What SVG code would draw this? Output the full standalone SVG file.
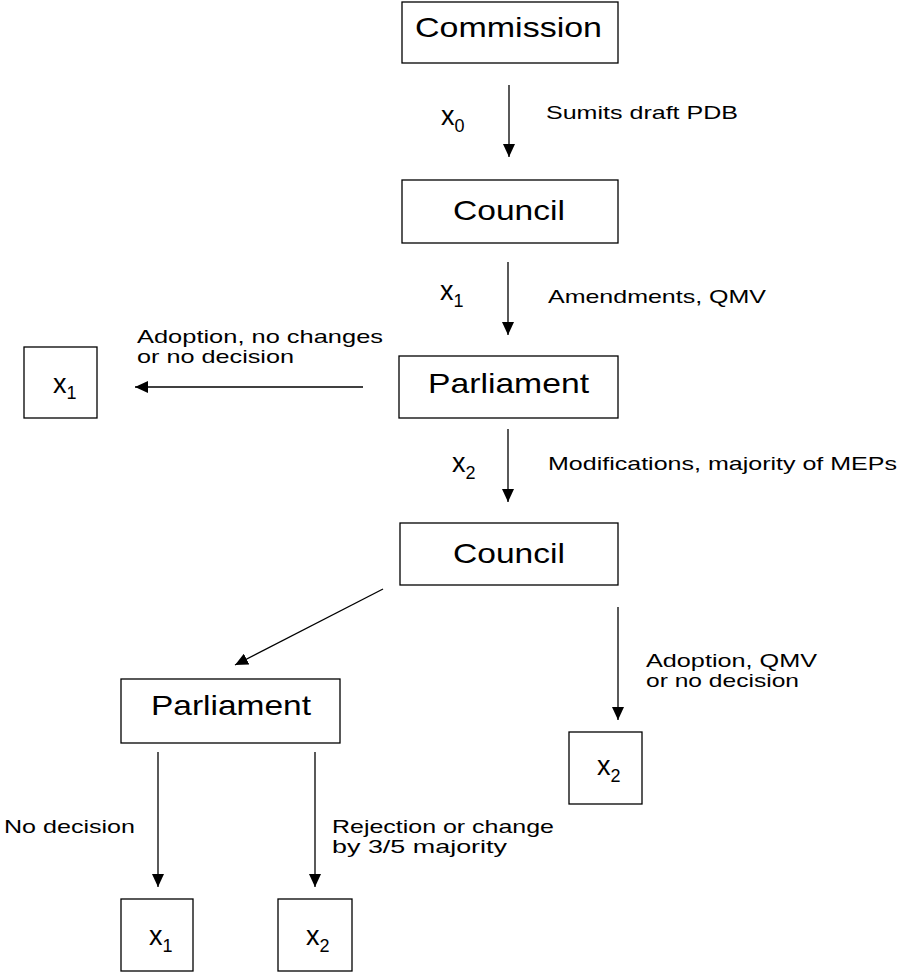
<svg xmlns="http://www.w3.org/2000/svg" width="905" height="973" viewBox="0 0 905 973">
<style>
  .box { fill: #ffffff; stroke: #000000; stroke-width: 1.3; }
  .big { font-family: "Liberation Sans", Arial, sans-serif; font-size: 28px; fill: #000; }
  .lbl { font-family: "Liberation Sans", Arial, sans-serif; font-size: 19px; fill: #000; }
  .xv { font-family: "Liberation Sans", Arial, sans-serif; font-size: 27px; fill: #000; }
  .sub { font-size: 18px; }
  .conn line { stroke: #000; stroke-width: 1.3; marker-end: url(#ah); }
</style>
<defs>
  <marker id="ah" markerUnits="userSpaceOnUse" markerWidth="14" markerHeight="12" refX="13" refY="6" orient="auto">
    <path d="M0,0 L13,6 L0,12 z" fill="#000"/>
  </marker>
</defs>
<rect x="0" y="0" width="905" height="973" fill="#ffffff"/>

<g id="commission">
  <rect class="box" x="402" y="2" width="216" height="61"/>
  <text class="big" x="415" y="37" textLength="187" lengthAdjust="spacingAndGlyphs">Commission</text>
</g>
<g id="council1">
  <rect class="box" x="402" y="180" width="216" height="63"/>
  <text class="big" x="453" y="220" textLength="112" lengthAdjust="spacingAndGlyphs">Council</text>
</g>
<g id="parliament1">
  <rect class="box" x="399" y="356" width="219" height="62"/>
  <text class="big" x="428" y="393" textLength="161" lengthAdjust="spacingAndGlyphs">Parliament</text>
</g>
<g id="x1-left">
  <rect class="box" x="24" y="347" width="73" height="71"/>
  <text class="xv" x="53" y="393">x<tspan class="sub" dy="6">1</tspan></text>
</g>
<g id="council2">
  <rect class="box" x="400" y="523" width="218" height="62"/>
  <text class="big" x="453" y="563" textLength="112" lengthAdjust="spacingAndGlyphs">Council</text>
</g>
<g id="parliament2">
  <rect class="box" x="121" y="679" width="219" height="64"/>
  <text class="big" x="151" y="715" textLength="160" lengthAdjust="spacingAndGlyphs">Parliament</text>
</g>
<g id="x2-right">
  <rect class="box" x="569" y="732" width="73" height="72"/>
  <text class="xv" x="597" y="775">x<tspan class="sub" dy="7">2</tspan></text>
</g>
<g id="x1-bottom">
  <rect class="box" x="121" y="899" width="72" height="72"/>
  <text class="xv" x="149" y="945">x<tspan class="sub" dy="7">1</tspan></text>
</g>
<g id="x2-bottom">
  <rect class="box" x="278" y="899" width="74" height="72"/>
  <text class="xv" x="306" y="945">x<tspan class="sub" dy="7">2</tspan></text>
</g>

<g id="connectors" class="conn">
  <line x1="509" y1="85" x2="509" y2="157"/>
  <line x1="508" y1="262" x2="508" y2="335"/>
  <line x1="363" y1="387" x2="135" y2="387"/>
  <line x1="508" y1="429" x2="508" y2="502"/>
  <line x1="383" y1="589" x2="235" y2="665"/>
  <line x1="618" y1="607" x2="618" y2="720"/>
  <line x1="158" y1="752" x2="158" y2="887"/>
  <line x1="315" y1="752" x2="315" y2="887"/>
</g>

<g id="labels">
  <text class="xv" x="441" y="125">x<tspan class="sub" dy="7">0</tspan></text>
  <text class="lbl" x="546" y="119" textLength="192" lengthAdjust="spacingAndGlyphs">Sumits draft PDB</text>
  <text class="xv" x="440" y="300">x<tspan class="sub" dy="7">1</tspan></text>
  <text class="lbl" x="548" y="303" textLength="218" lengthAdjust="spacingAndGlyphs">Amendments, QMV</text>
  <text class="lbl" x="137" y="343" textLength="246" lengthAdjust="spacingAndGlyphs">Adoption, no changes</text>
  <text class="lbl" x="137" y="363" textLength="157" lengthAdjust="spacingAndGlyphs">or no decision</text>
  <text class="xv" x="452" y="472">x<tspan class="sub" dy="7">2</tspan></text>
  <text class="lbl" x="548" y="470" textLength="349" lengthAdjust="spacingAndGlyphs">Modifications, majority of MEPs</text>
  <text class="lbl" x="646" y="667" textLength="171" lengthAdjust="spacingAndGlyphs">Adoption, QMV</text>
  <text class="lbl" x="646" y="687" textLength="153" lengthAdjust="spacingAndGlyphs">or no decision</text>
  <text class="lbl" x="4" y="833" textLength="131" lengthAdjust="spacingAndGlyphs">No decision</text>
  <text class="lbl" x="332" y="833" textLength="222" lengthAdjust="spacingAndGlyphs">Rejection or change</text>
  <text class="lbl" x="332" y="853" textLength="175" lengthAdjust="spacingAndGlyphs">by 3/5 majority</text>
</g>
</svg>
